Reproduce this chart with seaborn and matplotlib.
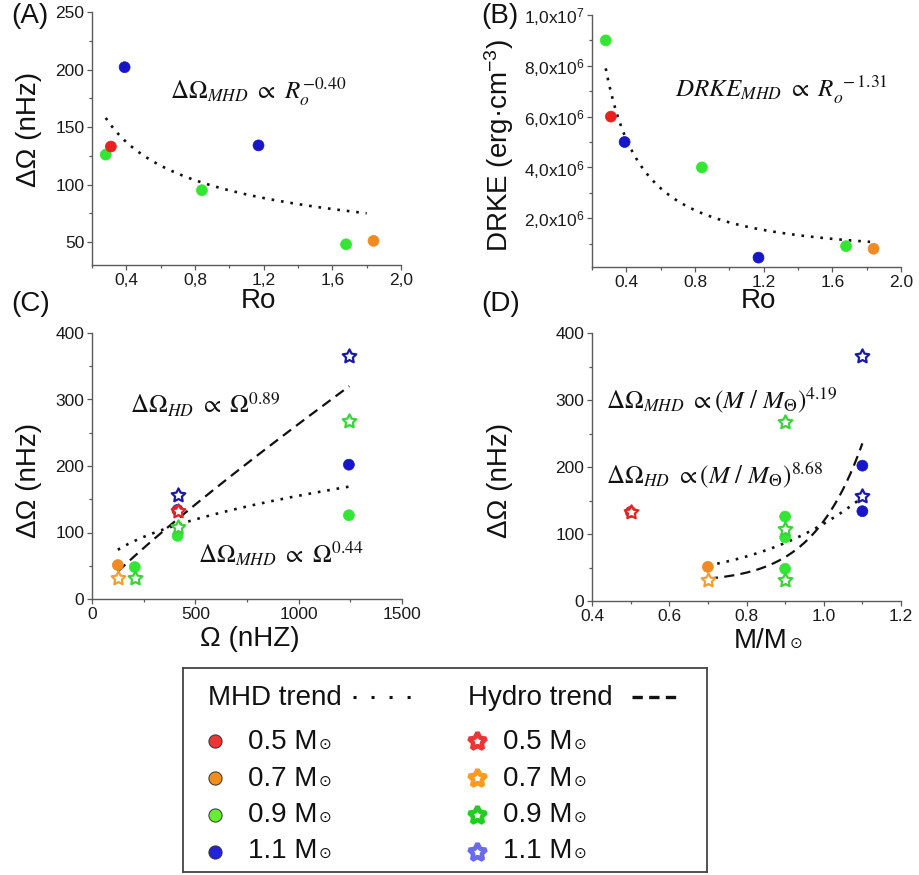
import numpy as np
import pandas as pd
import matplotlib
matplotlib.use("Agg")
import matplotlib.pyplot as plt
import seaborn as sns
from matplotlib.ticker import FixedLocator, FixedFormatter, MultipleLocator

# ---------------- data ----------------
mass_levels = [0.5, 0.7, 0.9, 1.1]
mass_labels = ["0.5 M", "0.7 M", "0.9 M", "1.1 M"]
sun_symbol = "⊙"
mhd_colors = ["#ec1f1f", "#f08a24", "#33e633", "#1616c8"]
hd_colors = ["#e02424", "#f0a030", "#3ad43a", "#1a1aa8"]
leg_circle_colors = ["#ee3535", "#f0901c", "#66ee33", "#2222dd"]
leg_star_colors = ["#ee3535", "#ff9a1a", "#22cc22", "#6a6aee"]

# MHD runs
mhd_mass = [0.5, 0.7, 0.9, 0.9, 0.9, 1.1, 1.1]
mhd_omega = [414, 125, 207, 414, 1243, 414, 1243]
mhd_ro = [0.31, 1.84, 1.68, 0.84, 0.28, 1.17, 0.39]
mhd_domega = [133, 51, 48, 95, 126, 134, 202]
mhd_drke = [6.0e6, 0.8e6, 0.9e6, 4.0e6, 9.0e6, 0.45e6, 5.0e6]

# Hydro runs
hd_mass = [0.5, 0.7, 0.9, 0.9, 0.9, 1.1, 1.1]
hd_omega = [414, 125, 207, 414, 1243, 414, 1243]
hd_domega = [133, 32, 32, 108, 267, 156, 365]

# power-law trend fits: (x0, x1, coef, exponent, offset)
trend_A_mhd = (0.28, 1.80, 94.9, -0.40, 0.0)
trend_B_mhd = (0.28, 1.82, 1.41e6, -1.31, 0.426e6)
trend_C_hd = (125, 1245, 0.563, 0.89, 0.0)
trend_C_mhd = (125, 1245, 6.49, 0.44, 19.7)
trend_D_mhd = (0.70, 1.10, 80.5, 4.19, 34.9)
trend_D_hd = (0.70, 1.10, 90.0, 8.68, 29.4)

# tick labels
a_xticks = [0.4, 0.8, 1.2, 1.6, 2.0]
a_xticklabels = ["0,4", "0,8", "1,2", "1,6", "2,0"]
a_yticks = [50, 100, 150, 200, 250]
b_xticks = [0.4, 0.8, 1.2, 1.6, 2.0]
b_xticklabels = ["0.4", "0.8", "1.2", "1.6", "2.0"]
b_yticks = [2e6, 4e6, 6e6, 8e6, 1e7]
b_yticklabels = ["2,0x10$^{6}$", "4,0x10$^{6}$", "6,0x10$^{6}$", "8,0x10$^{6}$", "1,0x10$^{7}$"]
c_xticks = [0, 500, 1000, 1500]
c_yticks = [0, 100, 200, 300, 400]
d_xticks = [0.4, 0.6, 0.8, 1.0, 1.2]
d_xticklabels = ["0.4", "0.6", "0.8", "1.0", "1.2"]
d_yticks = [0, 100, 200, 300, 400]

mhd = pd.DataFrame({"mass": mhd_mass, "Omega": mhd_omega, "Ro": mhd_ro,
                    "dOmega": mhd_domega, "DRKE": mhd_drke})
hd = pd.DataFrame({"mass": hd_mass, "Omega": hd_omega, "dOmega": hd_domega})

# ---------------- style ----------------
sns.set_style("ticks")
plt.rcParams["font.family"] = ["Liberation Sans", "DejaVu Sans"]
plt.rcParams["mathtext.fontset"] = "custom"
plt.rcParams["mathtext.rm"] = "Liberation Sans"
plt.rcParams["mathtext.it"] = "Liberation Sans:italic"
plt.rcParams["mathtext.bf"] = "Liberation Sans:bold"

W, H = 919, 875
fig = plt.figure(figsize=(W / 100, H / 100), dpi=100)
renderer = fig.canvas.get_renderer()

def add_ax(l, t, r, b):
    return fig.add_axes([l / W, 1 - b / H, (r - l) / W, (b - t) / H])

axA = add_ax(92, 12, 401, 265)
axB = add_ax(592, 15, 901, 267)
axC = add_ax(92, 333, 402, 599)
axD = add_ax(592, 333, 901, 601)

SPINE = "#5a5a5a"
for ax in (axA, axB, axC, axD):
    for s in ("top", "right"):
        ax.spines[s].set_visible(False)
    for s in ("left", "bottom"):
        ax.spines[s].set_color(SPINE)
        ax.spines[s].set_linewidth(1.0)
    ax.tick_params(which="both", direction="out", color=SPINE, width=0.9,
                   labelsize=12.5, labelcolor="#1a1a1a", pad=2)
    ax.tick_params(which="major", length=3.5)
    ax.tick_params(which="minor", length=2.5)

star = (5, 1, 0)
pal_mhd = dict(zip(mass_levels, mhd_colors))
pal_hd = dict(zip(mass_levels, hd_colors))

def circles(ax, x, y):
    d = mhd.sort_values("mass", ascending=False)
    sns.scatterplot(data=d, x=x, y=y, hue="mass", palette=pal_mhd, s=62,
                    edgecolor="face", linewidth=0.5, legend=False, ax=ax, zorder=3)

def stars(ax, x, y):
    for m in mass_levels:
        sub = hd[hd["mass"] == m]
        if len(sub):
            sns.scatterplot(data=sub, x=x, y=y, color="white", edgecolor=pal_hd[m],
                            linewidth=1.6, marker=star, s=105, legend=False, ax=ax, zorder=4)

def trend(ax, p, style):
    x0, x1, coef, expo, off = p
    xs = np.linspace(x0, x1, 200)
    ys = off + coef * xs ** expo
    if style == "dot":
        ls = (0, (1, 2.6))
        lw = 1.9
    else:
        ls = (0, (4.6, 2.8))
        lw = 1.6
    sns.lineplot(x=xs, y=ys, ax=ax, color="#111111", linestyle=ls, linewidth=lw,
                 legend=False, zorder=2)

def finish(ax):
    ax.set_xlabel("")
    ax.set_ylabel("")

# Panel A
trend(axA, trend_A_mhd, "dot")
circles(axA, "Ro", "dOmega")
axA.set_xlim(0.2, 2.0)
axA.set_ylim(30, 250)
axA.xaxis.set_major_locator(FixedLocator(a_xticks))
axA.xaxis.set_major_formatter(FixedFormatter(a_xticklabels))
axA.xaxis.set_minor_locator(MultipleLocator(0.2))
axA.yaxis.set_major_locator(FixedLocator(a_yticks))
axA.yaxis.set_minor_locator(MultipleLocator(25))
finish(axA)

# Panel B
trend(axB, trend_B_mhd, "dot")
circles(axB, "Ro", "DRKE")
axB.set_xlim(0.2, 2.0)
axB.set_ylim(8e4, 1e7)
axB.xaxis.set_major_locator(FixedLocator(b_xticks))
axB.xaxis.set_major_formatter(FixedFormatter(b_xticklabels))
axB.xaxis.set_minor_locator(MultipleLocator(0.2))
axB.yaxis.set_major_locator(FixedLocator(b_yticks))
axB.yaxis.set_major_formatter(FixedFormatter(b_yticklabels))
axB.yaxis.set_minor_locator(MultipleLocator(1e6))
finish(axB)

# Panel C
trend(axC, trend_C_hd, "dash")
trend(axC, trend_C_mhd, "dot")
circles(axC, "Omega", "dOmega")
stars(axC, "Omega", "dOmega")
axC.set_xlim(0, 1500)
axC.set_ylim(0, 400)
axC.xaxis.set_major_locator(FixedLocator(c_xticks))
axC.xaxis.set_minor_locator(MultipleLocator(250))
axC.yaxis.set_major_locator(FixedLocator(c_yticks))
axC.yaxis.set_minor_locator(MultipleLocator(50))
finish(axC)

# Panel D
trend(axD, trend_D_hd, "dash")
trend(axD, trend_D_mhd, "dot")
circles(axD, "mass", "dOmega")
stars(axD, "mass", "dOmega")
axD.set_xlim(0.4, 1.2)
axD.set_ylim(0, 400)
axD.xaxis.set_major_locator(FixedLocator(d_xticks))
axD.xaxis.set_major_formatter(FixedFormatter(d_xticklabels))
axD.xaxis.set_minor_locator(MultipleLocator(0.1))
axD.yaxis.set_major_locator(FixedLocator(d_yticks))
axD.yaxis.set_minor_locator(MultipleLocator(50))
finish(axD)

# ---------------- annotations ----------------
ann = dict(fontsize=18, math_fontfamily="stix", color="#111111", ha="left", va="baseline")
axA.text(0.656, 175, r"$\Delta\Omega_{MHD}\ \propto\ R_o^{-0.40}$", **ann)
axB.text(0.683, 6.78e6, r"$DRKE_{MHD}\ \propto\ R_o^{\ -1.31}$", **ann)
axC.text(184, 279, r"$\Delta\Omega_{HD}\ \propto\ \Omega^{0.89}$", **ann)
axC.text(514, 54, r"$\Delta\Omega_{MHD}\ \propto\ \Omega^{0.44}$", **ann)
axD.text(0.437, 288, r"$\Delta\Omega_{MHD}\ \propto (M\ /\ M_{\Theta})^{4.19}$", **ann)
axD.text(0.437, 175, r"$\Delta\Omega_{HD}\ \propto (M\ /\ M_{\Theta})^{8.68}$", **ann)

def ftext(px, py, s, **kw):
    return fig.text(px / W, 1 - py / H, s, **kw)

def with_sun(t, size):
    """Append a small solar symbol right after text t, on the same baseline."""
    bb = t.get_window_extent(renderer)
    fx, fy = fig.transFigure.inverted().transform((bb.x1 + 1.5, 0))
    _, fyb = t.get_position()
    return fig.text(fx, fyb, sun_symbol, fontsize=size, color=t.get_color(),
                    family=["DejaVu Sans"], ha="left", va="baseline")

LBL = dict(fontsize=20, color="#111111")
# panel letters
ftext(11, 3, "(A)", ha="left", va="top", **LBL)
ftext(481, 3, "(B)", ha="left", va="top", **LBL)
ftext(11, 291, "(C)", ha="left", va="top", **LBL)
ftext(481, 291, "(D)", ha="left", va="top", **LBL)
# axis labels
ftext(29, 129, "ΔΩ (nHz)", rotation=90, ha="center", va="center", **LBL)
ftext(499, 145, "DRKE (erg·cm$^{-3}$)", rotation=90, ha="center", va="center", **LBL)
ftext(29, 480, "ΔΩ (nHz)", rotation=90, ha="center", va="center", **LBL)
ftext(500, 480, "ΔΩ (nHz)", rotation=90, ha="center", va="center", **LBL)
ftext(258, 301, "Ro", ha="center", va="center", **LBL)
ftext(758, 301, "Ro", ha="center", va="center", **LBL)
ftext(250, 639, "Ω (nHZ)", ha="center", va="center", **LBL)
tD = ftext(788, 648, "M/M", ha="right", va="baseline", **LBL)
with_sun(tD, 11)

# ---------------- legend box ----------------
axL = add_ax(183, 668, 707, 872)
axL.set_xlim(0, 524)
axL.set_ylim(204, 0)
axL.set_xticks([]); axL.set_yticks([])
for s in axL.spines.values():
    s.set_visible(True)
    s.set_color("#444444")
    s.set_linewidth(1.3)

LT = dict(fontsize=20, color="#111111", va="baseline", ha="left")
axL.text(25, 37, "MHD trend", **LT)
axL.plot([170, 229], [29, 29], color="#111111", linewidth=2.2, linestyle=(0, (1, 4.9)))
axL.text(285, 37, "Hydro trend", **LT)
axL.plot([449, 494], [29, 29], color="#111111", linewidth=2.4, linestyle=(0, (3.1, 1.9)))
row_y = [73, 110, 147, 184]
row_base = [81, 118, 154, 190]
for lab, cc, sc, ym, yb in zip(mass_labels, leg_circle_colors, leg_star_colors, row_y, row_base):
    axL.plot([32], [ym], marker="o", markersize=9.5, color=cc, markeredgecolor="#333333",
             markeredgewidth=0.7, linestyle="none")
    t1 = axL.text(65, yb, lab, **LT)
    axL.plot([294], [ym], marker=star, markersize=13, color="white", markeredgecolor=sc,
             markeredgewidth=3.3, linestyle="none")
    t2 = axL.text(320, yb, lab, **LT)
    for t in (t1, t2):
        bb = t.get_window_extent(renderer)
        x_end = axL.transData.inverted().transform((bb.x1 + 1.5, bb.y0))[0]
        axL.text(x_end, yb, sun_symbol, fontsize=11, color="#111111",
                 family=["DejaVu Sans"], ha="left", va="baseline")

fig.savefig("out.png", dpi=100)
